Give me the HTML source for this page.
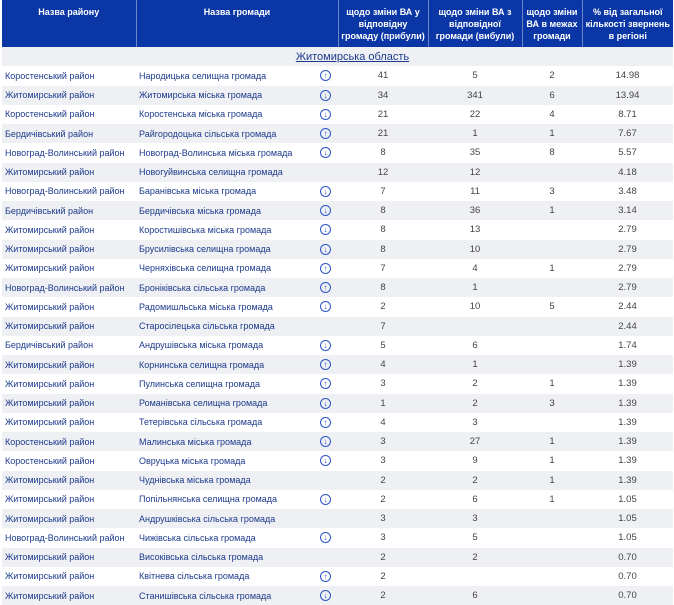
<!DOCTYPE html>
<html><head><meta charset="utf-8"><style>
body{margin:0;width:674px;height:600px;overflow:hidden;background:#fff;font-family:"Liberation Sans",sans-serif;}
table{position:absolute;left:2px;top:0;width:671px;border-collapse:collapse;table-layout:fixed;}
th{box-sizing:border-box;background:#0a36a6;color:#fff;font-size:9px;font-weight:bold;line-height:12px;height:47px;vertical-align:middle;padding:0 2px;border-left:1px solid #6f86c8;}
th:first-child{border-left:none;}
td{height:19.26px;padding:0;font-size:9px;color:#1d3a8c;white-space:nowrap;overflow:hidden;}
tr.g td{background:#eef0f3;}
td.a{padding-left:3px;}
td.b{padding-left:3px;position:relative;}
td.n{text-align:center;color:#444;font-size:9.5px;}
td.r{text-align:center;color:#1d3a8c;font-size:11px;text-decoration:underline;padding-left:30px;}
.ic{position:absolute;left:184px;top:4px;width:9px;height:9px;border:1.3px solid #2a55c8;border-radius:50%;color:#2a55c8;font-size:8px;line-height:9px;text-align:center;font-weight:bold;}
</style></head><body>
<table>
<colgroup><col style="width:134px"><col style="width:202px"><col style="width:90px"><col style="width:94px"><col style="width:60px"><col style="width:91px"></colgroup>
<tr><th style="vertical-align:top;padding-top:6px">Назва району</th><th style="vertical-align:top;padding-top:6px">Назва громади</th><th>щодо зміни ВА у відповідну громаду (прибули)</th><th>щодо зміни ВА з відповідної громади (вибули)</th><th>щодо зміни ВА в межах громади</th><th>% від загальної кількості звернень в регіоні</th></tr>
<tr class="g"><td colspan="6" class="r">Житомирська область</td></tr>
<tr><td class="a">Коростенський район</td><td class="b">Народицька селищна громада<span class="ic">↑</span></td><td class="n">41</td><td class="n">5</td><td class="n">2</td><td class="n">14.98</td></tr>
<tr class="g"><td class="a">Житомирський район</td><td class="b">Житомирська міська громада<span class="ic">↓</span></td><td class="n">34</td><td class="n">341</td><td class="n">6</td><td class="n">13.94</td></tr>
<tr><td class="a">Коростенський район</td><td class="b">Коростенська міська громада<span class="ic">↓</span></td><td class="n">21</td><td class="n">22</td><td class="n">4</td><td class="n">8.71</td></tr>
<tr class="g"><td class="a">Бердичівський район</td><td class="b">Райгородоцька сільська громада<span class="ic">↑</span></td><td class="n">21</td><td class="n">1</td><td class="n">1</td><td class="n">7.67</td></tr>
<tr><td class="a">Новоград-Волинський район</td><td class="b">Новоград-Волинська міська громада<span class="ic">↓</span></td><td class="n">8</td><td class="n">35</td><td class="n">8</td><td class="n">5.57</td></tr>
<tr class="g"><td class="a">Житомирський район</td><td class="b">Новогуйвинська селищна громада</td><td class="n">12</td><td class="n">12</td><td class="n"></td><td class="n">4.18</td></tr>
<tr><td class="a">Новоград-Волинський район</td><td class="b">Баранівська міська громада<span class="ic">↓</span></td><td class="n">7</td><td class="n">11</td><td class="n">3</td><td class="n">3.48</td></tr>
<tr class="g"><td class="a">Бердичівський район</td><td class="b">Бердичівська міська громада<span class="ic">↓</span></td><td class="n">8</td><td class="n">36</td><td class="n">1</td><td class="n">3.14</td></tr>
<tr><td class="a">Житомирський район</td><td class="b">Коростишівська міська громада<span class="ic">↓</span></td><td class="n">8</td><td class="n">13</td><td class="n"></td><td class="n">2.79</td></tr>
<tr class="g"><td class="a">Житомирський район</td><td class="b">Брусилівська селищна громада<span class="ic">↓</span></td><td class="n">8</td><td class="n">10</td><td class="n"></td><td class="n">2.79</td></tr>
<tr><td class="a">Житомирський район</td><td class="b">Черняхівська селищна громада<span class="ic">↑</span></td><td class="n">7</td><td class="n">4</td><td class="n">1</td><td class="n">2.79</td></tr>
<tr class="g"><td class="a">Новоград-Волинський район</td><td class="b">Броніківська сільська громада<span class="ic">↑</span></td><td class="n">8</td><td class="n">1</td><td class="n"></td><td class="n">2.79</td></tr>
<tr><td class="a">Житомирський район</td><td class="b">Радомишльська міська громада<span class="ic">↓</span></td><td class="n">2</td><td class="n">10</td><td class="n">5</td><td class="n">2.44</td></tr>
<tr class="g"><td class="a">Житомирський район</td><td class="b">Старосілецька сільська громада</td><td class="n">7</td><td class="n"></td><td class="n"></td><td class="n">2.44</td></tr>
<tr><td class="a">Бердичівський район</td><td class="b">Андрушівська міська громада<span class="ic">↓</span></td><td class="n">5</td><td class="n">6</td><td class="n"></td><td class="n">1.74</td></tr>
<tr class="g"><td class="a">Житомирський район</td><td class="b">Корнинська селищна громада<span class="ic">↑</span></td><td class="n">4</td><td class="n">1</td><td class="n"></td><td class="n">1.39</td></tr>
<tr><td class="a">Житомирський район</td><td class="b">Пулинська селищна громада<span class="ic">↑</span></td><td class="n">3</td><td class="n">2</td><td class="n">1</td><td class="n">1.39</td></tr>
<tr class="g"><td class="a">Житомирський район</td><td class="b">Романівська селищна громада<span class="ic">↓</span></td><td class="n">1</td><td class="n">2</td><td class="n">3</td><td class="n">1.39</td></tr>
<tr><td class="a">Житомирський район</td><td class="b">Тетерівська сільська громада<span class="ic">↑</span></td><td class="n">4</td><td class="n">3</td><td class="n"></td><td class="n">1.39</td></tr>
<tr class="g"><td class="a">Коростенський район</td><td class="b">Малинська міська громада<span class="ic">↓</span></td><td class="n">3</td><td class="n">27</td><td class="n">1</td><td class="n">1.39</td></tr>
<tr><td class="a">Коростенський район</td><td class="b">Овруцька міська громада<span class="ic">↓</span></td><td class="n">3</td><td class="n">9</td><td class="n">1</td><td class="n">1.39</td></tr>
<tr class="g"><td class="a">Житомирський район</td><td class="b">Чуднівська міська громада</td><td class="n">2</td><td class="n">2</td><td class="n">1</td><td class="n">1.39</td></tr>
<tr><td class="a">Житомирський район</td><td class="b">Попільнянська селищна громада<span class="ic">↓</span></td><td class="n">2</td><td class="n">6</td><td class="n">1</td><td class="n">1.05</td></tr>
<tr class="g"><td class="a">Житомирський район</td><td class="b">Андрушківська сільська громада</td><td class="n">3</td><td class="n">3</td><td class="n"></td><td class="n">1.05</td></tr>
<tr><td class="a">Новоград-Волинський район</td><td class="b">Чижівська сільська громада<span class="ic">↓</span></td><td class="n">3</td><td class="n">5</td><td class="n"></td><td class="n">1.05</td></tr>
<tr class="g"><td class="a">Житомирський район</td><td class="b">Високівська сільська громада</td><td class="n">2</td><td class="n">2</td><td class="n"></td><td class="n">0.70</td></tr>
<tr><td class="a">Житомирський район</td><td class="b">Квітнева сільська громада<span class="ic">↑</span></td><td class="n">2</td><td class="n"></td><td class="n"></td><td class="n">0.70</td></tr>
<tr class="g"><td class="a">Житомирський район</td><td class="b">Станишівська сільська громада<span class="ic">↓</span></td><td class="n">2</td><td class="n">6</td><td class="n"></td><td class="n">0.70</td></tr>
</table>
</body></html>
